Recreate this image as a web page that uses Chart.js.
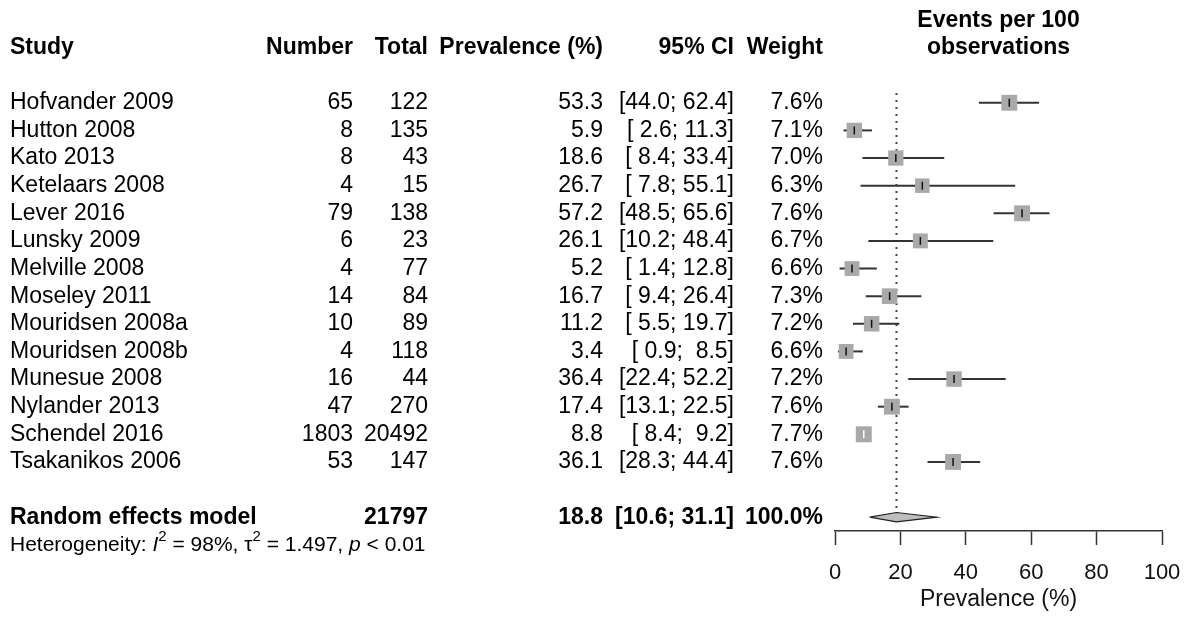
<!DOCTYPE html>
<html>
<head>
<meta charset="utf-8">
<script src="https://cdn.jsdelivr.net/npm/chart.js@4/dist/chart.umd.min.js"></script>
<style>
  body { margin: 0; background: #fff; }
  #wrap { width: 1187px; height: 619px; position: relative; }
</style>
</head>
<body>
<div id="wrap"><canvas id="forestChart"></canvas></div>
<script>
const studies = ["Hofvander 2009", "Hutton 2008", "Kato 2013", "Ketelaars 2008", "Lever 2016",
  "Lunsky 2009", "Melville 2008", "Moseley 2011", "Mouridsen 2008a", "Mouridsen 2008b",
  "Munesue 2008", "Nylander 2013", "Schendel 2016", "Tsakanikos 2006"];
const events = [65, 8, 8, 4, 79, 6, 4, 14, 10, 4, 16, 47, 1803, 53];
const totals = [122, 135, 43, 15, 138, 23, 77, 84, 89, 118, 44, 270, 20492, 147];
const prevalence = [53.3, 5.9, 18.6, 26.7, 57.2, 26.1, 5.2, 16.7, 11.2, 3.4, 36.4, 17.4, 8.8, 36.1];
const ciLower = [44.0, 2.6, 8.4, 7.8, 48.5, 10.2, 1.4, 9.4, 5.5, 0.9, 22.4, 13.1, 8.4, 28.3];
const ciUpper = [62.4, 11.3, 33.4, 55.1, 65.6, 48.4, 12.8, 26.4, 19.7, 8.5, 52.2, 22.5, 9.2, 44.4];
const weights = [7.6, 7.1, 7.0, 6.3, 7.6, 6.7, 6.6, 7.3, 7.2, 6.6, 7.2, 7.6, 7.7, 7.6];

const pooledTotal = 21797;
const pooledEst = 18.8;
const pooledLower = 10.6;
const pooledUpper = 31.1;
const pooledWeight = 100.0;

const xTicks = [0, 20, 40, 60, 80, 100];

const FONT = "'Liberation Sans', Arial, sans-serif";
Chart.defaults.font.family = FONT;
Chart.defaults.color = "#000";

const pooledRow = studies.length + 1;
const rowOf = i => i;

// square size grows with sqrt of the weight
const maxW = Math.max(...weights);
const squareRadius = weights.map(w => 8 * Math.sqrt(w / maxW));

// a CI that fits inside its square is drawn in white
const ciInside = studies.map((s, i) => {
  const pxPerUnit = 3.27;
  return (ciUpper[i] - ciLower[i]) * pxPerUnit < squareRadius[i] * 2;
});

const ciSets = studies.map((s, i) => ({
  type: "line",
  data: [{ x: ciLower[i], y: rowOf(i) }, { x: ciUpper[i], y: rowOf(i) }],
  borderColor: ciInside[i] ? "#ffffff" : "#333333",
  borderWidth: 2,
  pointRadius: 0,
  order: 3
}));

const fmt = v => v.toFixed(1);
const pad = v => fmt(v).padStart(4, " ");
const ciText = (lo, hi) => "[" + pad(lo) + "; " + pad(hi) + "]";

// table columns to the left of the plot
const tablePlugin = {
  id: "forestTable",
  afterDraw(chart) {
    const ctx = chart.ctx;
    const y = chart.scales.y;
    const x = chart.scales.x;
    ctx.save();
    ctx.fillStyle = "#000";
    ctx.textBaseline = "middle";

    const bold = "bold 23px " + FONT;
    const normal = "23px " + FONT;

    const cols = [
      { x: 10, align: "left" },
      { x: 353, align: "right" },
      { x: 428, align: "right" },
      { x: 603, align: "right" },
      { x: 734, align: "right" },
      { x: 823, align: "right" }
    ];
    const put = (text, col, row, font) => {
      ctx.font = font;
      ctx.textAlign = cols[col].align;
      ctx.fillText(text, cols[col].x, y.getPixelForValue(row));
    };

    const headers = ["Study", "Number", "Total", "Prevalence (%)", "95% CI", "Weight"];
    headers.forEach((h, c) => put(h, c, -2, bold));

    const mid = (x.left + x.right) / 2;
    ctx.font = bold;
    ctx.textAlign = "center";
    ctx.fillText("Events per 100", mid, y.getPixelForValue(-2.97));
    ctx.fillText("observations", mid, y.getPixelForValue(-2));

    studies.forEach((s, i) => {
      const r = rowOf(i);
      put(s, 0, r, normal);
      put(String(events[i]), 1, r, normal);
      put(String(totals[i]), 2, r, normal);
      put(fmt(prevalence[i]), 3, r, normal);
      put(ciText(ciLower[i], ciUpper[i]), 4, r, normal);
      put(fmt(weights[i]) + "%", 5, r, normal);
    });

    put("Random effects model", 0, pooledRow, bold);
    put(String(pooledTotal), 2, pooledRow, bold);
    put(fmt(pooledEst), 3, pooledRow, bold);
    put(ciText(pooledLower, pooledUpper), 4, pooledRow, bold);
    put(fmt(pooledWeight) + "%", 5, pooledRow, bold);

    // heterogeneity line with italic and superscript pieces
    const hy = y.getPixelForValue(pooledRow + 1);
    const parts = [
      ["Heterogeneity: ", "21px", 0],
      ["I", "italic 21px", 0],
      ["2", "15px", -8],
      [" = 98%, ", "21px", 0],
      ["\u03c4", "21px", 0],
      ["2", "15px", -8],
      [" = 1.497, ", "21px", 0],
      ["p", "italic 21px", 0],
      [" < 0.01", "21px", 0]
    ];
    let hx = 10;
    ctx.textAlign = "left";
    parts.forEach(([t, f, dy]) => {
      ctx.font = f + " " + FONT;
      ctx.fillText(t, hx, hy + dy);
      hx += ctx.measureText(t).width;
    });
    ctx.restore();
  }
};

new Chart(document.getElementById("forestChart"), {
  type: "scatter",
  data: {
    datasets: [
      {
        // point estimate tick
        data: prevalence.map((p, i) => ({ x: p, y: rowOf(i) })),
        pointStyle: "line",
        rotation: 90,
        pointRadius: 4,
        borderWidth: 1.5,
        borderColor: ciInside.map(c => c ? "#ffffff" : "#111111"),
        order: 0
      },
      {
        data: prevalence.map((p, i) => ({ x: p, y: rowOf(i) })),
        pointStyle: "rect",
        pointRadius: squareRadius.map(r => r * Math.SQRT2),
        backgroundColor: "#a9a9a9",
        borderWidth: 0,
        order: 1
      },
      {
        type: "line",
        data: [
          { x: pooledLower, y: pooledRow },
          { x: pooledEst, y: pooledRow - 0.17 },
          { x: pooledUpper, y: pooledRow },
          { x: pooledEst, y: pooledRow + 0.17 },
          { x: pooledLower, y: pooledRow }
        ],
        fill: "shape",
        backgroundColor: "#bdbdbd",
        borderColor: "#222",
        borderWidth: 1.2,
        pointRadius: 0,
        tension: 0,
        order: 2
      },
      ...ciSets,
      {
        type: "line",
        data: [{ x: pooledEst, y: -0.35 }, { x: pooledEst, y: pooledRow }],
        borderColor: "#444",
        borderWidth: 2,
        borderDash: [2, 5],
        pointRadius: 0,
        order: 4
      }
    ]
  },
  options: {
    responsive: true,
    maintainAspectRatio: false,
    animation: false,
    layout: { autoPadding: false, padding: { left: 835, right: 25, top: 0, bottom: 0 } },
    plugins: {
      legend: { display: false },
      tooltip: { enabled: false }
    },
    scales: {
      x: {
        type: "linear",
        position: "bottom",
        min: 0,
        max: 100,
        afterBuildTicks(scale) {
          scale.ticks = xTicks.map(v => ({ value: v }));
        },
        afterFit(scale) {
          scale.height = 88;
          scale.paddingLeft = 0;
          scale.paddingRight = 0;
        },
        ticks: {
          font: { size: 22 },
          color: "#111",
          padding: 15,
          maxRotation: 0
        },
        grid: {
          drawOnChartArea: false,
          drawTicks: true,
          tickLength: 14,
          tickWidth: 1.5,
          tickColor: "#333"
        },
        border: { display: true, color: "#333", width: 1.5 },
        title: {
          display: true,
          text: "Prevalence (%)",
          font: { size: 23 },
          color: "#111",
          padding: { top: 4, bottom: 6 }
        }
      },
      y: {
        type: "linear",
        display: false,
        reverse: true,
        min: -3.72,
        max: 15.5
      }
    }
  },
  plugins: [tablePlugin]
});
</script>
</body>
</html>
